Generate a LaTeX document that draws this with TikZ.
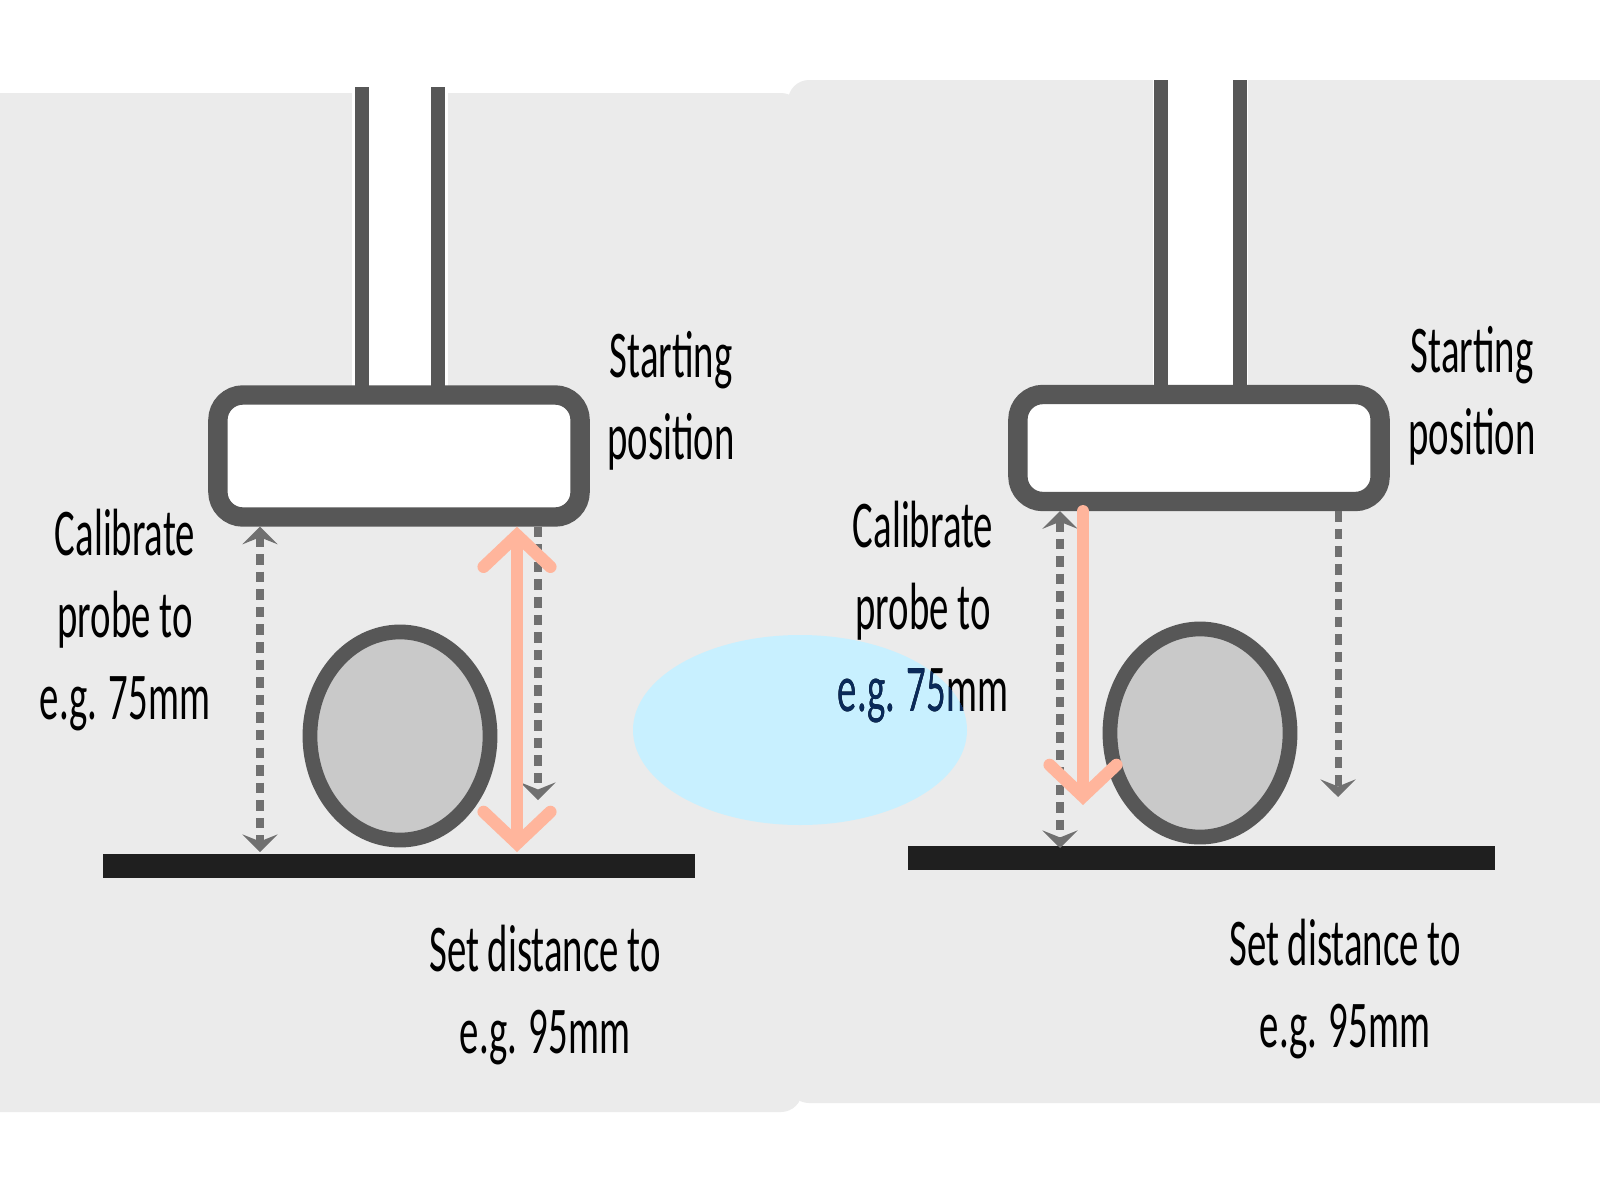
\documentclass[tikz,border=0pt]{standalone}
\usepackage{fontspec}
\usepackage{tikz}
\usetikzlibrary{arrows.meta,shapes.geometric}
\newfontfamily\labelfont[FakeStretch=0.58]{Carlito}
\definecolor{panelgray}{HTML}{EBEBEB}
\definecolor{probegray}{HTML}{575757}
\definecolor{ballgray}{HTML}{C9C9C9}
\definecolor{gaugegray}{HTML}{707070}
\definecolor{salmon}{HTML}{FFB59C}
\definecolor{hilite}{HTML}{C8F0FF}
\definecolor{navy}{HTML}{0A2A5A}

\begin{document}
\begin{tikzpicture}[x=0.01cm, y=-0.01cm,
  panel/.style={fill=panelgray, rounded corners=6pt},
  rod/.style={probegray, line width=4pt},
  probe/.style={draw=probegray, fill=white, line width=5.5pt, rounded corners=0.25cm,
    minimum width=3.62cm, inner sep=0pt},
  ball/.style={ellipse, draw=probegray, fill=ballgray, line width=4.2pt,
    minimum width=1.8cm, minimum height=2.08cm, inner sep=0pt},
  ground/.style={line width=7pt, color=black!88},
  gauge/.style={gaugegray, line width=2pt, dash pattern=on 3pt off 2pt,
    >={Stealth[length=5pt, width=10pt, inset=2pt]}},
  move/.style={salmon, line width=3.5pt, line cap=round,
    >={Straight Barb[length=9pt, width=19pt, line cap=round]}},
  note/.style={font=\labelfont\fontsize{19}{23.3}\selectfont, align=center, inner sep=0pt}]
  \clip (0,0) rectangle (1600,1200);
  \fill[white] (0,0) rectangle (1600,1200);
  % the two panels
  \fill[panel] (-40,93) rectangle (802,1112);
  \fill[panel] (788,80) rectangle (1640,1103);
  \fill[hilite] (800,730) ellipse (167 and 95);

  % left: set distance
  \fill[white] (352,80) rectangle (448,390);
  \draw[rod] (362,87) -- (362,390) (438,87) -- (438,390);
  \node[probe, minimum height=1.22cm] (blockL) at (399,456) {};
  \node[ball] (ballL) at (400,736) {};
  \draw[ground] (103,866) -- (695,866);
  \coordinate (zeroL) at (260,852);
  \coordinate (tipL) at (538,800);
  \coordinate (setL) at (517,852);
  \draw[gauge, <->] (blockL.south -| zeroL) -- (zeroL);
  \draw[gauge, ->] (blockL.south -| tipL) -- (tipL);
  \draw[move, <->] (blockL.south -| setL) -- (setL);

  % right: move down
  \fill[white] (1153,70) rectangle (1248,390);
  \draw[rod] (1161,80) -- (1161,390) (1240,80) -- (1240,390);
  \node[probe, minimum height=1.07cm] (blockR) at (1199,448) {};
  \node[ball] (ballR) at (1200,733) {};
  \draw[ground] (908,858) -- (1495,858);
  \coordinate (zeroR) at (1060,848);
  \coordinate (tipR) at (1338,797);
  \coordinate (setR) at (1083,805);
  \draw[gauge, <->] (blockR.south -| zeroR) -- (zeroR);
  \draw[gauge, ->] (blockR.south -| tipR) -- (tipR);
  \draw[move, ->] (blockR.south -| setR) -- (setR);

  % labels
  \node[note] (startL) at (671,401) {Starting\\position};
  \node[note] (calibL) at (125,620) {Calibrate\\probe to\\e.g. 75mm};
  \node[note] (distL) at (545,995) {Set distance to\\e.g. 95mm};
  \node[note] (startR) at (1472,396) {Starting\\position};
  \node[note] (calibR) at (923,612) {Calibrate\\probe to\\e.g. 75mm};
  \node[note] (distR) at (1345,989) {Set distance to\\e.g. 95mm};
  \begin{scope}
    \clip (800,730) ellipse (167 and 95);
    \node[note, text=navy] (calibRhl) at (calibR) {Calibrate\\probe to\\e.g. 75mm};
  \end{scope}
\end{tikzpicture}
\end{document}
